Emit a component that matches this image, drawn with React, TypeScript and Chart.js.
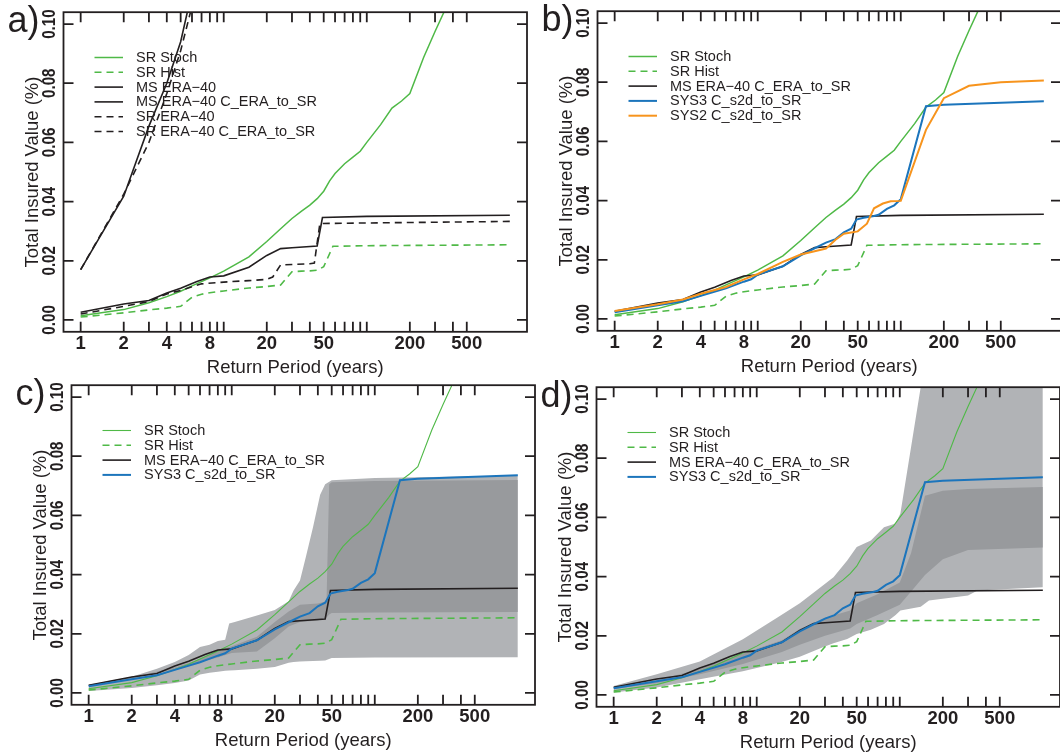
import React, { useEffect, useRef } from "react";
import { Chart, registerables } from "chart.js";

Chart.register(...registerables);

const FONT = '"Liberation Sans", Arial, Helvetica, sans-serif';
const INK = "#231f20";
const GREEN = "#4fb947";
const BLUE = "#1c75bc";
const ORANGE = "#f7941d";
const BAND_OUTER = "#b1b3b6";
const BAND_INNER = "#989a9d";

// Axis definitions
const xLabelTicks = [1, 2, 4, 8, 20, 50, 200, 500];
const xTickMarks = [1, 2, 3, 4, 5, 6, 7, 8, 9, 10, 20, 30, 40, 50, 60, 70, 80, 90, 100, 200, 300, 400, 500];
const yTicks = [0, 0.02, 0.04, 0.06, 0.08, 0.1];
const yTickLabels = ["0.00", "0.02", "0.04", "0.06", "0.08", "0.10"];

// SR Stoch
const stochT = [1, 2, 3, 4, 5, 6, 8, 10, 15, 20, 25, 30, 35, 40, 45, 50, 55, 60, 70, 80, 90, 100, 125, 150, 175, 200, 250, 300, 350, 400];
const stochV = [0.0014, 0.0035, 0.0058, 0.0079, 0.0097, 0.0115, 0.0142, 0.0165, 0.0213, 0.0265, 0.0308, 0.0343, 0.0368, 0.0388, 0.041, 0.0435, 0.047, 0.0495, 0.0528, 0.055, 0.057, 0.06, 0.066, 0.0716, 0.074, 0.0765, 0.0888, 0.0975, 0.1045, 0.111];

// SR Hist
const histT = [1, 2, 3, 4, 5, 6, 7, 8, 10, 15, 20, 25, 30, 35, 40, 45, 50, 58, 100, 1000];
const histV = [0.001, 0.0024, 0.0034, 0.004, 0.0046, 0.0077, 0.0087, 0.0092, 0.0098, 0.0108, 0.0113, 0.0118, 0.0163, 0.0165, 0.0166, 0.0168, 0.018, 0.0249, 0.0251, 0.0254];

// MS ERA-40 (uncorrected)
const msEraT = [1, 2, 3, 4, 5, 6];
const msEraV = [0.017, 0.0418, 0.0655, 0.08, 0.094, 0.111];

// SR ERA-40 (uncorrected)
const srEraT = [1, 2, 3, 4, 5, 6];
const srEraV = [0.017, 0.0425, 0.06, 0.0765, 0.091, 0.106];

// MS ERA-40 C_ERA_to_SR
const msCorrT = [1, 2, 3, 4, 5, 6.5, 8, 10, 15, 20, 25, 30, 45, 49, 100, 1000];
const msCorrV = [0.0026, 0.0054, 0.0066, 0.0091, 0.0107, 0.013, 0.0145, 0.0149, 0.0178, 0.0218, 0.0241, 0.0244, 0.025, 0.0346, 0.035, 0.0354];

// SR ERA-40 C_ERA_to_SR
const srCorrT = [1, 2, 3, 4, 5, 7, 10, 15, 20, 22, 25, 40, 43, 47, 1000];
const srCorrV = [0.002, 0.0046, 0.0062, 0.0088, 0.01, 0.0122, 0.0128, 0.0133, 0.0137, 0.0145, 0.0186, 0.019, 0.0192, 0.0326, 0.0333];

// SYS3 C_s2d_to_SR
const sys3T = [1, 2, 3, 4, 6, 8, 9, 10, 15, 20, 25, 30, 35, 40, 45, 49, 55, 65, 70, 80, 90, 100, 150, 200, 1000];
const sys3V = [0.0023, 0.0046, 0.006, 0.0078, 0.0104, 0.0126, 0.0134, 0.015, 0.0178, 0.0215, 0.0239, 0.0258, 0.027, 0.0293, 0.0305, 0.0336, 0.0342, 0.0348, 0.0352, 0.0372, 0.0384, 0.0405, 0.0719, 0.0724, 0.0736];

// SYS2 C_s2d_to_SR
const sys2T = [1, 2, 3, 4, 6, 8, 10, 15, 20, 25, 30, 35, 40, 50, 58, 65, 75, 85, 100, 150, 200, 300, 500, 1000];
const sys2V = [0.0027, 0.005, 0.0066, 0.0085, 0.0108, 0.0134, 0.0152, 0.0193, 0.0218, 0.0229, 0.0238, 0.0268, 0.0288, 0.0296, 0.0322, 0.0374, 0.039, 0.0398, 0.0399, 0.0639, 0.0746, 0.0788, 0.08, 0.0806];

// Panel c spread
const cOuterT = [1, 2, 3, 4, 5, 6, 7, 8, 9, 9.6, 10.5, 15, 20, 25, 27, 30, 33, 37, 41.5, 45, 50, 100, 1000];
const cOuterHi = [0.0028, 0.0055, 0.0082, 0.0105, 0.0128, 0.0155, 0.0163, 0.0176, 0.018, 0.0235, 0.024, 0.0262, 0.028, 0.031, 0.0345, 0.038, 0.046, 0.056, 0.067, 0.0705, 0.0719, 0.0726, 0.0735];
const cOuterLo = [0.0007, 0.0017, 0.0026, 0.0034, 0.0042, 0.0062, 0.0068, 0.0072, 0.0075, 0.0076, 0.0077, 0.0082, 0.0088, 0.0102, 0.0105, 0.0106, 0.0107, 0.0108, 0.0109, 0.011, 0.0118, 0.012, 0.0121];
const cInnerT = [1, 2, 4, 6, 8, 10, 15, 20, 25, 30, 40, 46, 48, 50, 100, 1000];
const cInnerHi = [0.0026, 0.0052, 0.0086, 0.0115, 0.0145, 0.0158, 0.019, 0.024, 0.0275, 0.0298, 0.0302, 0.031, 0.0705, 0.0712, 0.0716, 0.072];
const cInnerLo = [0.0024, 0.0048, 0.008, 0.0105, 0.012, 0.0135, 0.014, 0.0185, 0.0225, 0.024, 0.0245, 0.0255, 0.0265, 0.027, 0.0272, 0.0274];

// Panel d spread
const dOuterT = [1, 2, 4, 8, 14.5, 20, 29, 34.4, 42.9, 50, 62.8, 77.6, 93.5, 101, 140, 160, 300, 350, 1000];
const dOuterHi = [0.003, 0.007, 0.0113, 0.0188, 0.0267, 0.031, 0.037, 0.0398, 0.0454, 0.05, 0.0522, 0.0567, 0.0579, 0.0613, 0.104, 0.13, 0.13, 0.13, 0.13];
const dOuterLo = [0.0008, 0.0025, 0.0053, 0.008, 0.011, 0.0129, 0.0161, 0.0175, 0.0189, 0.0206, 0.022, 0.024, 0.027, 0.0285, 0.0298, 0.0319, 0.0336, 0.0353, 0.0364];
const dInnerT = [1, 2, 4, 8, 15, 20, 30, 45, 50, 70, 100, 120, 150, 200, 300, 1000];
const dInnerHi = [0.0026, 0.005, 0.0088, 0.014, 0.0185, 0.0223, 0.026, 0.0285, 0.031, 0.034, 0.038, 0.048, 0.0673, 0.069, 0.0696, 0.0703];
const dInnerLo = [0.002, 0.004, 0.007, 0.0105, 0.0145, 0.017, 0.02, 0.0225, 0.024, 0.027, 0.0305, 0.035, 0.0405, 0.0459, 0.049, 0.0498];

type Line = { label: string; t: number[]; v: number[]; color: string; width: number; dash: number[] };
type Band = { t: number[]; lo: number[]; hi: number[]; color: string };
type Panel = { letter: string; left: number; top: number; lines: Line[]; bands: Band[] };

const SOLID: number[] = [];
const DASHED = [7, 5];

const stoch = (w: number): Line => ({ label: "SR Stoch", t: stochT, v: stochV, color: GREEN, width: w, dash: SOLID });
const hist: Line = { label: "SR Hist", t: histT, v: histV, color: GREEN, width: 1.6, dash: DASHED };
const msCorr: Line = { label: "MS ERA\u221240 C_ERA_to_SR", t: msCorrT, v: msCorrV, color: INK, width: 1.6, dash: SOLID };
const sys3: Line = { label: "SYS3 C_s2d_to_SR", t: sys3T, v: sys3V, color: BLUE, width: 2, dash: SOLID };

const panels: Panel[] = [
  {
    letter: "a)", left: 63.5, top: 12.2, bands: [],
    lines: [
      stoch(1.5),
      hist,
      { label: "MS ERA\u221240", t: msEraT, v: msEraV, color: INK, width: 1.6, dash: SOLID },
      msCorr,
      { label: "SR ERA\u221240", t: srEraT, v: srEraV, color: INK, width: 1.6, dash: DASHED },
      { label: "SR ERA\u221240 C_ERA_to_SR", t: srCorrT, v: srCorrV, color: INK, width: 1.6, dash: DASHED },
    ],
  },
  {
    letter: "b)", left: 597.5, top: 11, bands: [],
    lines: [
      stoch(1.5),
      hist,
      msCorr,
      sys3,
      { label: "SYS2 C_s2d_to_SR", t: sys2T, v: sys2V, color: ORANGE, width: 2, dash: SOLID },
    ],
  },
  {
    letter: "c)", left: 71.4, top: 385.6,
    bands: [
      { t: cOuterT, lo: cOuterLo, hi: cOuterHi, color: BAND_OUTER },
      { t: cInnerT, lo: cInnerLo, hi: cInnerHi, color: BAND_INNER },
    ],
    lines: [stoch(1.1), hist, msCorr, sys3],
  },
  {
    letter: "d)", left: 596.1, top: 387,
    bands: [
      { t: dOuterT, lo: dOuterLo, hi: dOuterHi, color: BAND_OUTER },
      { t: dInnerT, lo: dInnerLo, hi: dInnerHi, color: BAND_INNER },
    ],
    lines: [stoch(1.1), hist, msCorr, sys3],
  },
];

// Canvas layout (all panels share the same frame geometry)
const CANVAS_W = 530;
const CANVAS_H = 377;
const AXIS_W = 63.5;
const PAD_TOP = 12.2;
const FRAME_W = 463.5;
const FRAME_H = 319.6;
const TICK = 10;

const pts = (t: number[], v: number[]) => t.map((x, i) => ({ x, y: v[i] }));

function decorations(p: Panel) {
  return {
    id: "decorations",
    afterDatasetsDraw(chart: any) {
      const { ctx, chartArea: a } = chart;
      const xs = chart.scales.x;
      const ys = chart.scales.y;
      ctx.save();
      ctx.setLineDash([]);
      ctx.strokeStyle = INK;
      ctx.lineWidth = 1.8;
      ctx.strokeRect(a.left, a.top, a.right - a.left, a.bottom - a.top);

      ctx.beginPath();
      for (const t of xTickMarks) {
        const px = xs.getPixelForValue(t);
        ctx.moveTo(px, a.bottom);
        ctx.lineTo(px, a.bottom - TICK);
        ctx.moveTo(px, a.top);
        ctx.lineTo(px, a.top + TICK);
      }
      for (const v of yTicks) {
        const py = ys.getPixelForValue(v);
        ctx.moveTo(a.left, py);
        ctx.lineTo(a.left + TICK, py);
        ctx.moveTo(a.right, py);
        ctx.lineTo(a.right - TICK, py);
      }
      ctx.stroke();

      // rotated value labels on the left axis
      ctx.fillStyle = INK;
      ctx.font = `bold 19px ${FONT}`;
      ctx.textAlign = "center";
      ctx.textBaseline = "middle";
      yTicks.forEach((v, i) => {
        const py = ys.getPixelForValue(v);
        ctx.save();
        ctx.translate(a.left - 14, py);
        ctx.rotate(-Math.PI / 2);
        ctx.scale(0.8, 1);
        ctx.fillText(yTickLabels[i], 0, 0);
        ctx.restore();
      });

      // legend
      ctx.font = `14.5px ${FONT}`;
      ctx.textAlign = "left";
      p.lines.forEach((l, i) => {
        const ly = a.top + 45.3 + i * 14.8;
        ctx.beginPath();
        ctx.strokeStyle = l.color;
        ctx.lineWidth = l.width;
        ctx.setLineDash(l.dash);
        ctx.moveTo(a.left + 31, ly);
        ctx.lineTo(a.left + 59.5, ly);
        ctx.stroke();
        ctx.setLineDash([]);
        ctx.fillStyle = INK;
        ctx.fillText(l.label, a.left + 72.5, ly + 0.5);
      });

      // panel letter
      ctx.font = `36px ${FONT}`;
      ctx.textBaseline = "alphabetic";
      ctx.fillStyle = INK;
      ctx.fillText(p.letter, a.left - 56, a.top + 19.5);
      ctx.restore();
    },
  };
}

function PanelChart({ p }: { p: Panel }) {
  const ref = useRef<HTMLCanvasElement | null>(null);
  useEffect(() => {
    if (!ref.current) return;
    const lineSets = [...p.lines].reverse().map((l) => ({
      label: l.label,
      data: pts(l.t, l.v),
      borderColor: l.color,
      borderWidth: l.width,
      borderDash: l.dash,
      pointRadius: 0,
      fill: false,
      tension: 0,
    }));
    const bandSets = [...p.bands].reverse().flatMap((b) => [
      {
        label: "",
        data: pts(b.t, b.hi),
        borderColor: "rgba(0,0,0,0)",
        borderWidth: 0,
        backgroundColor: b.color,
        pointRadius: 0,
        fill: "+1",
        tension: 0,
      },
      {
        label: "",
        data: pts(b.t, b.lo),
        borderColor: "rgba(0,0,0,0)",
        borderWidth: 0,
        pointRadius: 0,
        fill: false,
        tension: 0,
      },
    ]);
    const chart = new Chart(ref.current, {
      type: "line",
      data: { datasets: [...lineSets, ...bandSets] as any },
      options: {
        responsive: false,
        animation: false,
        devicePixelRatio: 1,
        layout: { padding: { top: PAD_TOP, right: CANVAS_W - AXIS_W - FRAME_W, left: 0, bottom: 0 } },
        plugins: { legend: { display: false }, tooltip: { enabled: false } },
        scales: {
          x: {
            type: "logarithmic",
            bounds: "data",
            min: Math.pow(10, -0.12),
            max: Math.pow(10, 3.12),
            afterBuildTicks: (s: any) => {
              s.ticks = xLabelTicks.map((value) => ({ value }));
            },
            afterFit: (s: any) => {
              s.height = CANVAS_H - PAD_TOP - FRAME_H;
            },
            grid: { display: false, drawTicks: false },
            border: { display: false },
            ticks: {
              autoSkip: false,
              maxRotation: 0,
              minRotation: 0,
              padding: 2.7,
              color: INK,
              font: { family: FONT, size: 18.5, weight: "bold", lineHeight: 1 },
              callback: (v: any) => String(v),
            },
            title: {
              display: true,
              text: "Return Period (years)",
              color: INK,
              font: { family: FONT, size: 18.5, lineHeight: 1 },
              padding: { top: 0, bottom: 0 },
            },
          },
          y: {
            type: "linear",
            bounds: "data",
            min: -0.004,
            max: 0.104,
            afterBuildTicks: (s: any) => {
              s.ticks = yTicks.map((value) => ({ value }));
            },
            afterFit: (s: any) => {
              s.width = AXIS_W;
            },
            grid: { display: false, drawTicks: false },
            border: { display: false },
            ticks: { display: false },
            title: {
              display: true,
              text: "Total Insured Value (%)",
              color: INK,
              font: { family: FONT, size: 18.5, lineHeight: 1 },
              padding: { top: 24, bottom: 0 },
            },
          },
        },
      } as any,
      plugins: [decorations(p)],
    });
    return () => chart.destroy();
  }, [p]);
  return (
    <canvas
      ref={ref}
      width={CANVAS_W}
      height={CANVAS_H}
      style={{ position: "absolute", left: p.left - AXIS_W, top: p.top - PAD_TOP, width: CANVAS_W, height: CANVAS_H }}
    />
  );
}

export default function App() {
  return (
    <div style={{ position: "absolute", left: 0, top: 0, width: 1060, height: 754, overflow: "hidden", background: "#fff" }}>
      {panels.map((p) => (
        <PanelChart key={p.letter} p={p} />
      ))}
    </div>
  );
}
